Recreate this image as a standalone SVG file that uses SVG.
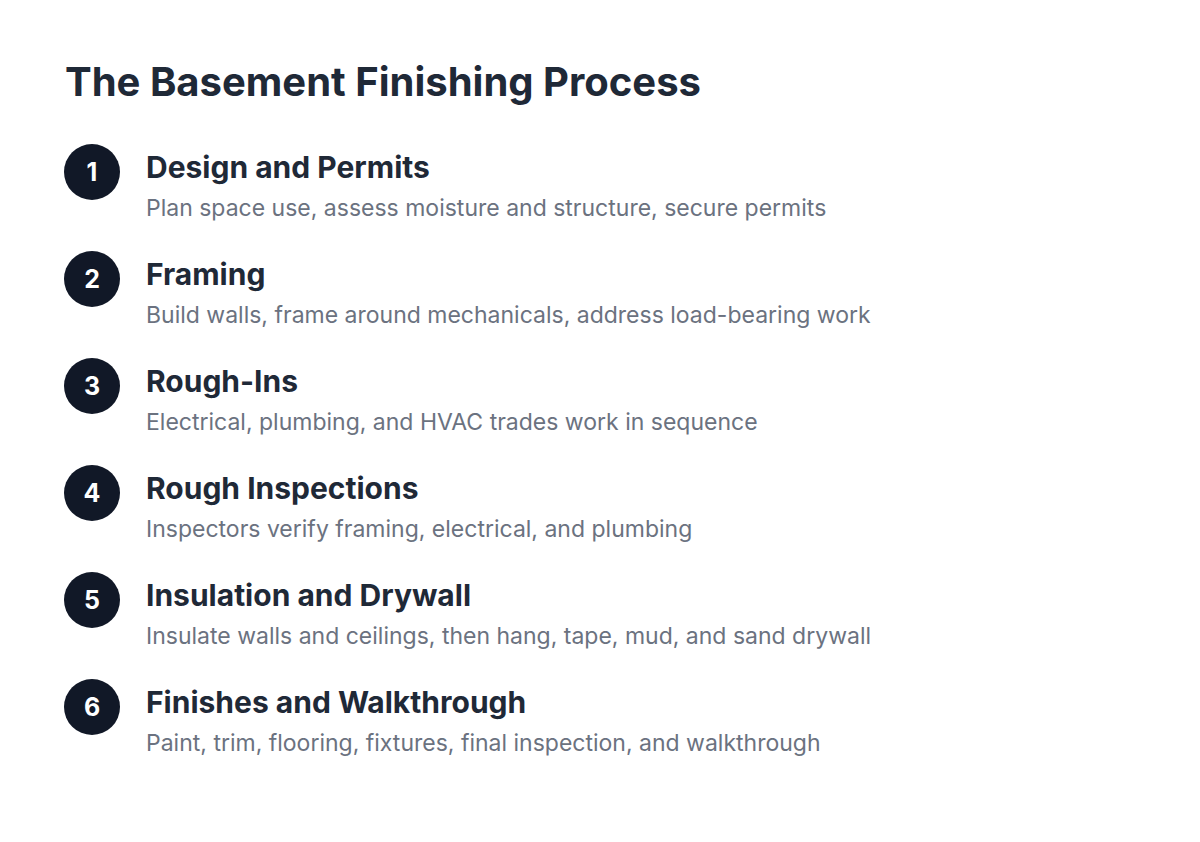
<svg xmlns="http://www.w3.org/2000/svg" width="1200" height="842" viewBox="0 0 1200 842">
<style>
.title{font-family:Inter,"Liberation Sans",sans-serif;font-weight:700;font-size:40px;fill:#1f2937}
.num{font-family:Inter,"Liberation Sans",sans-serif;font-weight:700;font-size:25px;fill:#ffffff;text-anchor:middle}
.head{font-family:Inter,"Liberation Sans",sans-serif;font-weight:700;font-size:30px;fill:#1f2937}
.desc{font-family:Inter,"Liberation Sans",sans-serif;font-weight:400;font-size:23px;fill:#6b7280}
.dot{fill:#111827}
</style>
<rect width="1200" height="842" fill="#ffffff"/>
<text class="title" x="65" y="96">The Basement Finishing Process</text>
<g id="step1"><circle class="dot" cx="92" cy="172" r="28"/><text class="num" x="92" y="181">1</text><text class="head" x="146" y="178">Design and Permits</text><text class="desc" x="146" y="216">Plan space use, assess moisture and structure, secure permits</text></g>
<g id="step2"><circle class="dot" cx="92" cy="279" r="28"/><text class="num" x="92" y="288">2</text><text class="head" x="146" y="285">Framing</text><text class="desc" x="146" y="323">Build walls, frame around mechanicals, address load-bearing work</text></g>
<g id="step3"><circle class="dot" cx="92" cy="386" r="28"/><text class="num" x="92" y="395">3</text><text class="head" x="146" y="392">Rough-Ins</text><text class="desc" x="146" y="430">Electrical, plumbing, and HVAC trades work in sequence</text></g>
<g id="step4"><circle class="dot" cx="92" cy="493" r="28"/><text class="num" x="92" y="502">4</text><text class="head" x="146" y="499">Rough Inspections</text><text class="desc" x="146" y="537">Inspectors verify framing, electrical, and plumbing</text></g>
<g id="step5"><circle class="dot" cx="92" cy="600" r="28"/><text class="num" x="92" y="609">5</text><text class="head" x="146" y="606">Insulation and Drywall</text><text class="desc" x="146" y="644">Insulate walls and ceilings, then hang, tape, mud, and sand drywall</text></g>
<g id="step6"><circle class="dot" cx="92" cy="707" r="28"/><text class="num" x="92" y="716">6</text><text class="head" x="146" y="713">Finishes and Walkthrough</text><text class="desc" x="146" y="751">Paint, trim, flooring, fixtures, final inspection, and walkthrough</text></g>
<g id="connectors"></g>
</svg>
